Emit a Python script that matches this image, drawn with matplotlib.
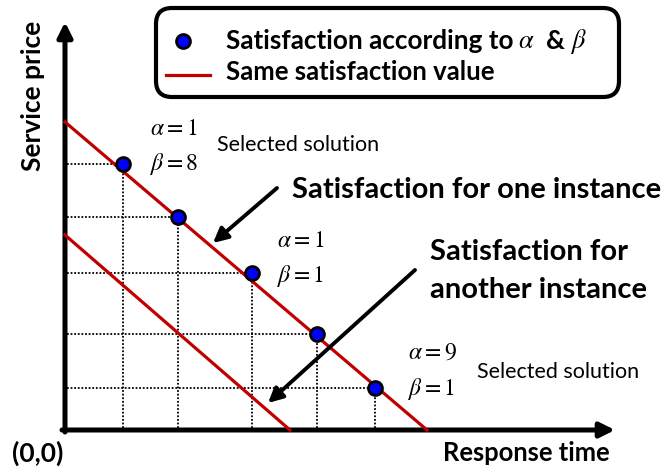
import matplotlib.pyplot as plt
from matplotlib.patches import FancyBboxPatch

plt.rcParams["mathtext.fontset"] = "stix"

# Candidate solutions (response time, service price)
resp_time = [5.8, 11.3, 18.7, 25.2, 31.0]
serv_price = [26.6, 21.3, 15.7, 9.6, 4.2]

# Iso-satisfaction lines: axis intercepts (x-intercept, y-intercept)
line_one = [36.2, 30.8]
line_other = [22.5, 19.5]

fig = plt.figure(figsize=(6.7, 4.73), dpi=100)
ax = fig.add_axes([0, 0, 1, 1])
ax.set_xlim(-6.5, 60.5)
ax.set_ylim(-4.3, 43.0)
ax.axis("off")

BOLD = dict(family="Lato", fontweight="bold")
RED = "#C00000"

# dotted guides from each point to the axes
for x, y in zip(resp_time, serv_price):
    ax.plot([0.2, x], [y, y], color="black", ls=(0, (1, 1)), lw=1.3, zorder=1)
    ax.plot([x, x], [0.2, y], color="black", ls=(0, (1, 1)), lw=1.3, zorder=1)

# axes with arrow heads
ax.annotate("", xy=(0, 40.8), xytext=(0, -0.2),
            arrowprops=dict(arrowstyle="-|>", lw=3.6, color="black",
                            mutation_scale=22, shrinkA=0, shrinkB=0))
ax.annotate("", xy=(55.0, 0), xytext=(-0.3, 0),
            arrowprops=dict(arrowstyle="-|>", lw=3.6, color="black",
                            mutation_scale=22, shrinkA=0, shrinkB=0))

# same-satisfaction lines
ax.plot([0, line_one[0]], [line_one[1], 0], color=RED, lw=2.3, zorder=3)
ax.plot([0, line_other[0]], [line_other[1], 0], color=RED, lw=2.3, zorder=3)

ax.plot(resp_time, serv_price, "o", ms=10, mfc="#0000FF", mec="black",
        mew=2, zorder=4)

# labels on selected points
math_kw = dict(fontsize=17, va="center", ha="left")
ax.text(8.5, 30.2, r"$\alpha = 1$", **math_kw)
ax.text(8.5, 26.6, r"$\beta = 8$", **math_kw)
ax.text(21.2, 19.0, r"$\alpha = 1$", **math_kw)
ax.text(21.2, 15.4, r"$\beta = 1$", **math_kw)
ax.text(34.3, 7.8, r"$\alpha = 9$", **math_kw)
ax.text(34.3, 4.1, r"$\beta = 1$", **math_kw)
ax.text(15.2, 28.5, "Selected solution", family="Lato", fontsize=15.5,
        va="center", ha="left")
ax.text(41.2, 5.8, "Selected solution", family="Lato", fontsize=15.5,
        va="center", ha="left")

# call-outs
ax.text(22.7, 24.0, "Satisfaction for one instance", fontsize=21,
        va="center", ha="left", **BOLD)
ax.annotate("", xy=(14.8, 18.7), xytext=(21.2, 24.2),
            arrowprops=dict(arrowstyle="-|>", lw=2.8, color="black",
                            mutation_scale=22, shrinkA=0, shrinkB=0))
ax.text(36.5, 17.8, "Satisfaction for", fontsize=21, va="center",
        ha="left", **BOLD)
ax.text(36.5, 14.0, "another instance", fontsize=21, va="center",
        ha="left", **BOLD)
ax.annotate("", xy=(20.3, 2.7), xytext=(35.0, 16.0),
            arrowprops=dict(arrowstyle="-|>", lw=2.8, color="black",
                            mutation_scale=22, shrinkA=0, shrinkB=0))

# axis titles
ax.text(37.8, -2.3, "Response time", fontsize=18.4, va="center", ha="left",
        **BOLD)
ax.text(-5.3, -2.3, "(0,0)", fontsize=19, va="center", ha="left", **BOLD)
ax.text(-3.2, 33.4, "Service price", fontsize=19, va="center", ha="center",
        rotation=90, **BOLD)

# legend box
box = FancyBboxPatch((9.1, 33.3), 46.3, 8.9,
                     boxstyle="round,pad=0,rounding_size=1.6",
                     fc="white", ec="black", lw=3, zorder=5)
ax.add_patch(box)
ax.plot([11.8], [38.9], "o", ms=10, mfc="#0000FF", mec="black", mew=2,
        zorder=6)
ax.plot([10.1, 14.5], [35.5, 35.5], color=RED, lw=2.3, zorder=6)
ax.text(16.1, 38.9, "Satisfaction according to", fontsize=18.8,
        va="center", ha="left", zorder=6, **BOLD)
ax.text(45.3, 38.9, r"$\alpha$", fontsize=19, va="center", ha="left",
        zorder=6)
ax.text(48.1, 38.9, "&", fontsize=18.8, va="center", ha="left", zorder=6,
        **BOLD)
ax.text(50.5, 38.9, r"$\beta$", fontsize=19, va="center", ha="left",
        zorder=6)
ax.text(16.1, 35.8, "Same satisfaction value", fontsize=18.5, va="center",
        ha="left", zorder=6, **BOLD)

fig.savefig("out.png", dpi=100, facecolor="white")
